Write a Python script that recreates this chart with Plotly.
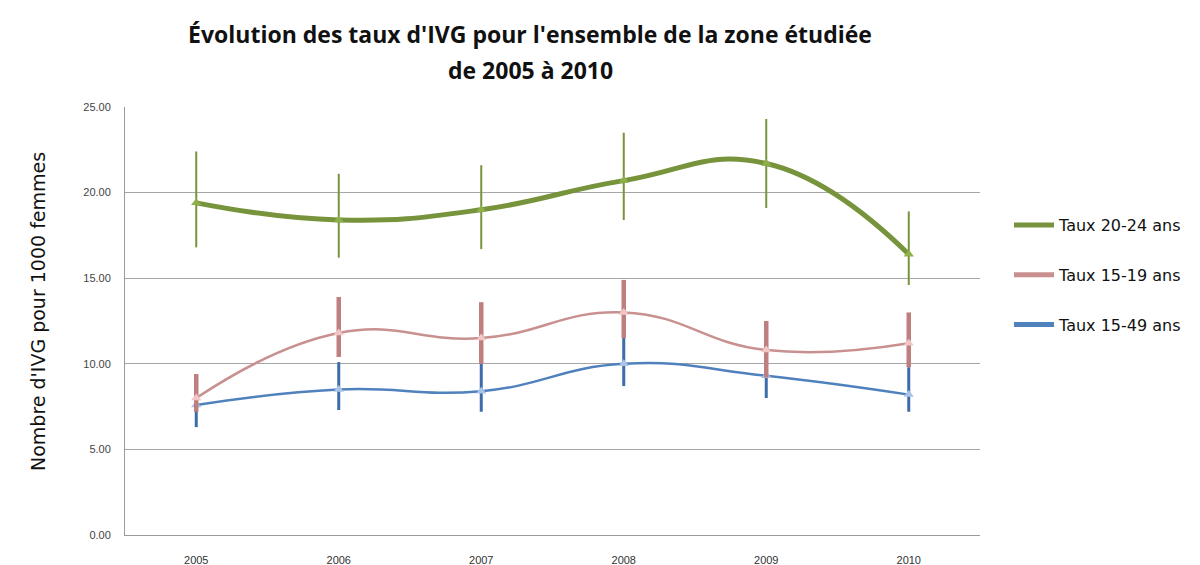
import plotly.graph_objects as go

years = ["2005", "2006", "2007", "2008", "2009", "2010"]

taux_20_24 = [19.4, 18.4, 19.0, 20.7, 21.7, 16.4]
err_20_24_plus = [3.0, 2.7, 2.6, 2.8, 2.6, 2.5]
err_20_24_minus = [2.6, 2.2, 2.3, 2.3, 2.6, 1.8]

taux_15_19 = [8.0, 11.8, 11.5, 13.0, 10.8, 11.2]
err_15_19_plus = [1.4, 2.1, 2.1, 1.9, 1.7, 1.8]
err_15_19_minus = [0.8, 1.4, 1.5, 1.5, 1.6, 1.4]

taux_15_49 = [7.6, 8.5, 8.4, 10.0, 9.3, 8.2]
err_15_49_plus = [1.0, 1.6, 1.6, 1.6, 1.1, 1.6]
err_15_49_minus = [1.3, 1.2, 1.2, 1.3, 1.3, 1.0]

names = ["Taux 20-24 ans", "Taux 15-19 ans", "Taux 15-49 ans"]
title_line1 = "Évolution des taux d'IVG pour l'ensemble de la zone étudiée"
title_line2 = "de 2005 à 2010"
y_title = "Nombre d'IVG pour 1000 femmes"

series = [
    # name, values, plus, minus, line colour, marker colour, err colour, line width, err width
    (names[2], taux_15_49, err_15_49_plus, err_15_49_minus, "#4F81BD", "#A9C4E8", "#3C6DAA", 2.5, 3),
    (names[1], taux_15_19, err_15_19_plus, err_15_19_minus, "#C8918F", "#F2C6C6", "#BF7F7E", 2.5, 4.5),
    (names[0], taux_20_24, err_20_24_plus, err_20_24_minus, "#77933C", "#8DB04A", "#77933C", 5, 2),
]

fig = go.Figure()
for name, vals, plus, minus, lc, mc, ec, lw, ew in series:
    fig.add_trace(go.Scatter(
        x=years, y=vals, mode="lines+markers", name=name, showlegend=False,
        line=dict(color=lc, width=lw, shape="spline", smoothing=1.3),
        marker=dict(symbol="triangle-up", size=9, color=mc),
        error_y=dict(type="data", symmetric=False, array=plus, arrayminus=minus,
                     color=ec, thickness=ew, width=0),
    ))

legend_colors = {names[0]: "#77933C", names[1]: "#C8918F", names[2]: "#4F81BD"}
for i, name in enumerate(names):
    fig.add_trace(go.Scatter(
        x=[None], y=[None], mode="lines", name=name, legendgroup=f"g{i}",
        line=dict(color=legend_colors[name], width=5),
    ))

# The page body has an 8px margin, so the figure is drawn 8px in from the window edge.
W, H = 1192, 557
L, R, T, B = 117, 220, 99, 30
PW, PH = W - L - R, H - T - B

fig.update_layout(
    width=W, height=H,
    paper_bgcolor="white", plot_bgcolor="white",
    margin=dict(l=L, r=R, t=T, b=B, autoexpand=False),
    title=dict(
        text="<b>" + title_line1 + "</b>",
        x=522 / W, xanchor="center", y=1 - 27 / H, yanchor="middle",
        font=dict(family="Open Sans", size=23, color="#111111"),
    ),
    legend=dict(
        x=(1001 - L) / PW, xanchor="left", y=(H - B - 200) / PH, yanchor="top",
        font=dict(family="DejaVu Sans", size=16, color="#111111"),
        tracegroupgap=26, itemwidth=40,
        bgcolor="rgba(0,0,0,0)",
    ),
    showlegend=True,
    xaxis=dict(
        type="category", range=[-0.5, 5.5], automargin=False,
        showgrid=False, showline=True, linecolor="#9a9a9a", linewidth=1,
        ticks="", tickfont=dict(family="Liberation Sans", size=11, color="#333333"),
        ticklabelstandoff=15,
    ),
    yaxis=dict(
        range=[0, 25], dtick=5, tickformat=".2f", automargin=False,
        showgrid=True, gridcolor="#a6a6a6", gridwidth=1,
        showline=True, linecolor="#9a9a9a", linewidth=1,
        zeroline=False, ticks="",
        tickfont=dict(family="Liberation Sans", size=11, color="#444444"),
        ticklabelstandoff=11,
    ),
    annotations=[
        dict(
            text="<b>" + title_line2 + "</b>",
            xref="paper", yref="paper", x=(522 - L) / PW, y=(H - B - 62) / PH,
            xanchor="center", yanchor="middle", showarrow=False,
            font=dict(family="Open Sans", size=23, color="#111111"),
        ),
        dict(
            text=y_title, textangle=-90,
            xref="paper", yref="paper", x=(30 - L) / PW, y=(H - B - 304) / PH,
            xanchor="center", yanchor="middle", showarrow=False,
            font=dict(family="DejaVu Sans", size=19, color="#111111"),
        ),
    ],
)

fig.write_html("out.html")
